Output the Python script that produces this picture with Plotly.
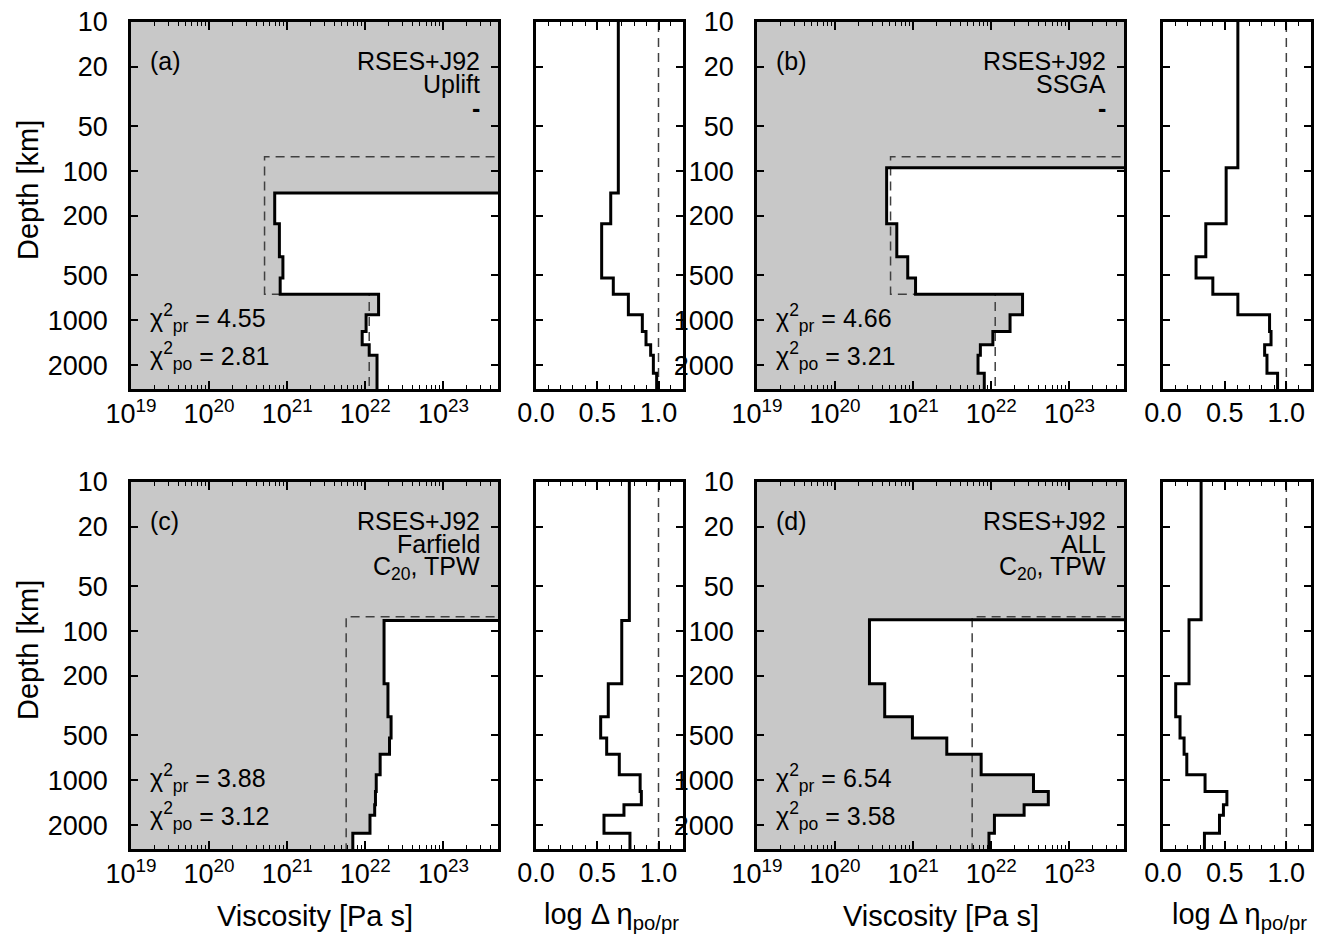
import numpy as np
import plotly.graph_objects as go

W, H = 1320, 939
FONT = "Liberation Sans, Arial, Helvetica, sans-serif"
FS = 25       # panel texts
FT = 27       # tick labels
FA = 29       # axis titles
GRAY = "#c8c8c8"

# ---------------- data ----------------
layer_tops = [225, 375, 520, 670, 920, 1190, 1460, 1720, 2270]   # km, below lithosphere
core_depth = 2891
lith_prior = 80
lith_post = {"a": 140, "b": 95, "c": 85, "d": 84}

# log10 viscosity (Pa s) of each layer below the lithosphere (posterior)
log_visc_a = [20.84, 20.90, 20.945, 20.91, 22.17, 22.01, 21.96, 22.05, 22.15, 22.15]
log_visc_b = [20.66, 20.79, 20.93, 21.03, 22.40, 22.24, 22.02, 21.86, 21.83, 21.91]
log_visc_c = [22.24, 22.29, 22.33, 22.31, 22.19, 22.14, 22.13, 22.12, 22.06, 21.84]
log_visc_d = [20.44, 20.635, 20.99, 21.43, 21.87, 22.54, 22.73, 22.42, 22.04, 21.97]

# prior viscosity: (upper mantle, lower mantle)
prior_ab = (20.71, 22.05)
prior_cd = (21.755, 21.755)

# log delta eta (first value: lithosphere layer, then the layers below)
deta_a = [0.672, 0.61, 0.536, 0.536, 0.631, 0.754, 0.868, 0.898, 0.936, 0.958, 0.985]
deta_b = [0.607, 0.512, 0.347, 0.268, 0.404, 0.607, 0.864, 0.876, 0.824, 0.843, 0.929]
deta_c = [0.762, 0.70, 0.59, 0.528, 0.577, 0.68, 0.85, 0.86, 0.718, 0.555, 0.767]
deta_d = [0.309, 0.211, 0.103, 0.138, 0.171, 0.193, 0.341, 0.518, 0.490, 0.458, 0.336]

chi_pr = {"a": "4.55", "b": "4.66", "c": "3.88", "d": "6.54"}
chi_po = {"a": "2.81", "b": "3.21", "c": "3.12", "d": "3.58"}
labels_right = {
    "a": ["RSES+J92", "Uplift", "<b>-</b>"],
    "b": ["RSES+J92", "SSGA", "<b>-</b>"],
    "c": ["RSES+J92", "Farfield", "C<sub>20</sub>, TPW"],
    "d": ["RSES+J92", "ALL", "C<sub>20</sub>, TPW"],
}

visc_x_ticks = [1e19, 1e20, 1e21, 1e22, 1e23]
visc_x_text = ["10<sup>19</sup>", "10<sup>20</sup>", "10<sup>21</sup>", "10<sup>22</sup>", "10<sup>23</sup>"]
depth_ticks = [10, 20, 50, 100, 200, 500, 1000, 2000]
deta_ticks = [0.0, 0.5, 1.0]
deta_text = ["0.0", "0.5", "1.0"]

# ---------------- layout geometry (pixels) ----------------
VX = {"a": (131, 498), "b": (757, 1124), "c": (131, 498), "d": (757, 1124)}
DX = {"a": (536, 683), "b": (1163, 1311), "c": (536, 683), "d": (1163, 1311)}
PY = {"a": (22, 389), "b": (22, 389), "c": (482, 849), "d": (482, 849)}

XMIN_L, XMAX_L = 19, float(np.log10(5e23))
YR = [float(np.log10(core_depth)), 1]
BIG, SMALL = 1e25, 1e18
DEEP = core_depth * 1.5


def px(x):
    return x / W


def py(y):
    return 1 - y / H


def steps(tops, vals, bottom):
    xs, ys = [], []
    bounds = list(tops) + [bottom]
    for i, v in enumerate(vals):
        xs += [v, v]
        ys += [bounds[i], bounds[i + 1]]
    return xs, ys


fig = go.Figure()
layout = dict(
    template="none",
    width=W, height=H, margin=dict(l=0, r=0, t=0, b=0, pad=0),
    paper_bgcolor="white", plot_bgcolor="white", showlegend=False,
    font=dict(family=FONT, size=FS, color="black"),
)
annotations = []

minor_log = [float(m) * 10.0 ** e for e in range(19, 24) for m in range(2, 10) if m * 10.0 ** e < 5e23]
DASH = dict(color="#404040", width=1.5, dash="9px,6px")

panels = [
    ("a", log_visc_a, prior_ab, deta_a),
    ("b", log_visc_b, prior_ab, deta_b),
    ("c", log_visc_c, prior_cd, deta_c),
    ("d", log_visc_d, prior_cd, deta_d),
]

for k, (key, lv, prior, deta) in enumerate(panels):
    nv = 2 * k + 1
    nd = 2 * k + 2
    xv, yv = f"x{nv}", f"y{nv}"
    xd, yd = f"x{nd}", f"y{nd}"
    lith = lith_post[key]
    tops = [lith] + layer_tops
    visc = [10.0 ** v for v in lv]

    # profile
    sx, sy = steps(tops, visc, DEEP)
    # gray fill polygon
    fx = [SMALL, BIG, BIG] + sx + [SMALL]
    fy = [1, 1, lith] + sy + [DEEP]
    fig.add_trace(go.Scatter(x=fx, y=fy, mode="lines", fill="toself", fillcolor=GRAY,
                             line=dict(width=0, color=GRAY), xaxis=xv, yaxis=yv, hoverinfo="skip"))
    # prior (dashed)
    px_ = [BIG, 10.0 ** prior[0], 10.0 ** prior[0], 10.0 ** prior[1], 10.0 ** prior[1]]
    py_ = [lith_prior, lith_prior, 670, 670, DEEP]
    fig.add_trace(go.Scatter(x=px_, y=py_, mode="lines", line=DASH,
                             xaxis=xv, yaxis=yv, hoverinfo="skip"))
    # posterior (solid)
    fig.add_trace(go.Scatter(x=[BIG] + sx, y=[lith] + sy, mode="lines",
                             line=dict(color="black", width=3),
                             xaxis=xv, yaxis=yv, hoverinfo="skip"))

    # delta eta panel
    dtops = [1] + tops
    dx_, dy_ = steps(dtops, deta, DEEP)
    fig.add_trace(go.Scatter(x=[1.0, 1.0], y=[1, DEEP], mode="lines", line=DASH,
                             xaxis=xd, yaxis=yd, hoverinfo="skip"))
    fig.add_trace(go.Scatter(x=dx_, y=dy_, mode="lines", line=dict(color="black", width=3),
                             xaxis=xd, yaxis=yd, hoverinfo="skip"))

    y0, y1 = PY[key]
    ydom = [py(y1), py(y0)]
    vx0, vx1 = VX[key]
    dx0, dx1 = DX[key]

    common = dict(showline=True, linewidth=2.5, linecolor="black", showgrid=False,
                  zeroline=False, automargin=False, ticks="inside", tickwidth=1.5,
                  tickcolor="black", mirror="allticks")
    layout[f"xaxis{nv}"] = dict(
        type="log", range=[XMIN_L, XMAX_L], domain=[px(vx0), px(vx1)], anchor=yv,
        tickvals=visc_x_ticks, ticktext=visc_x_text, ticklen=8,
        tickfont=dict(size=FT), ticklabelstandoff=-1,
        minor=dict(tickvals=minor_log, ticks="inside", ticklen=4, tickwidth=1, tickcolor="black"),
        **common)
    layout[f"yaxis{nv}"] = dict(
        type="log", range=YR, domain=ydom, anchor=xv,
        tickvals=depth_ticks, ticktext=[str(t) for t in depth_ticks],
        ticklen=7, tickfont=dict(size=FT), ticklabelstandoff=15, **common)
    layout[f"xaxis{nd}"] = dict(
        range=[0, 1.2], domain=[px(dx0), px(dx1)], anchor=yd,
        tickvals=deta_ticks, ticktext=deta_text, ticklen=8,
        tickfont=dict(size=FT), ticklabelstandoff=-2,
        minor=dict(dtick=0.1, ticks="inside", ticklen=4, tickwidth=1, tickcolor="black"),
        **common)
    layout[f"yaxis{nd}"] = dict(
        type="log", range=YR, domain=ydom, anchor=xd,
        tickvals=depth_ticks, ticklen=7, showticklabels=False, **common)

    # panel texts
    annotations.append(dict(x=px(vx0 + 17), y=py(y0 + 39), xref="paper", yref="paper",
                            text=f"({key})", showarrow=False, xanchor="left", yanchor="middle"))
    for t, dy in zip(labels_right[key], [39, 62, 86]):
        annotations.append(dict(x=px(vx1 - 17), y=py(y0 + dy), xref="paper", yref="paper",
                                text=t, showarrow=False, xanchor="right", yanchor="middle",
                                borderpad=0))
    annotations.append(dict(x=px(vx0 + 17), y=py(y0 + 296), xref="paper", yref="paper",
                            text=f"χ<sup>2</sup><sub>pr</sub> = {chi_pr[key]}",
                            showarrow=False, xanchor="left", yanchor="middle"))
    annotations.append(dict(x=px(vx0 + 17), y=py(y0 + 334), xref="paper", yref="paper",
                            text=f"χ<sup>2</sup><sub>po</sub> = {chi_po[key]}",
                            showarrow=False, xanchor="left", yanchor="middle"))

# axis titles
for yc in (190, 650):
    annotations.append(dict(x=px(28), y=py(yc), xref="paper", yref="paper", text="Depth [km]",
                            textangle=-90, showarrow=False, xanchor="center", yanchor="middle",
                            font=dict(size=FA)))
for key in ("c", "d"):
    vx0, vx1 = VX[key]
    dx0, dx1 = DX[key]
    annotations.append(dict(x=px((vx0 + vx1) / 2), y=py(916), xref="paper", yref="paper",
                            text="Viscosity [Pa s]", showarrow=False, xanchor="center",
                            yanchor="middle", font=dict(size=FA)))
    annotations.append(dict(x=px((dx0 + dx1) / 2 + 2), y=py(916), xref="paper", yref="paper",
                            text="log Δ η<sub>po/pr</sub>", showarrow=False, xanchor="center",
                            yanchor="middle", font=dict(size=FA)))

layout["annotations"] = annotations
fig.update_layout(**layout)
fig.write_html("out.html", config={"displayModeBar": False},
               post_script="document.body.style.margin='0';document.body.style.overflow='hidden';")
